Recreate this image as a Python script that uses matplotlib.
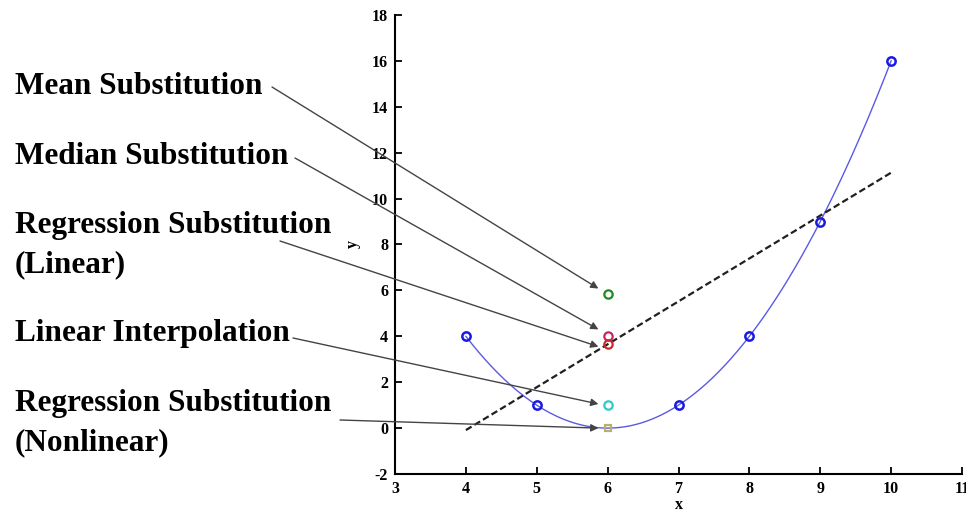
import numpy as np
import matplotlib
matplotlib.use('Agg')
import matplotlib.pyplot as plt

plt.rcParams['axes.unicode_minus'] = False

#-------------------------------------------------------------------------------
# known samples (the missing one sits at x = 6)
x_known = [4, 5, 7, 8, 9, 10]
y_known = [4, 1, 1, 4, 9, 16]
x_missing = 6

# imputed values at x = 6, one per method
methods = ['Mean Substitution', 'Median Substitution',
           'Regression Substitution\n(Linear)', 'Linear Interpolation',
           'Regression Substitution\n(Nonlinear)']
imputed = [5.83, 4.0, 3.65, 1.0, 0.0]
colors = ['#1f8a1f', '#d0206a', '#d02828', '#30c8c8', '#b8b070']
markers = ['o', 'o', 'o', 'o', 's']

# label positions in figure pixels (centre of first line) and arrow start points
label_px = [(15, 87), (15, 157), (15, 225), (15, 333), (15, 403)]
arrow_start_px = [(272, 87), (295, 158), (280, 241), (293, 338), (340, 420)]
arrow_dy = [0.25, 0.3, -0.1, 0.05, 0.0]
#-------------------------------------------------------------------------------
W, H = 966, 516
fig = plt.figure(figsize=(W / 100, H / 100), dpi=100)
ax = fig.add_axes([395 / W, 1 - 474 / H, (962 - 395) / W, (474 - 15) / H])

serif = ['Liberation Serif', 'DejaVu Serif']

# fitted curves from the known samples
xx = np.linspace(min(x_known), max(x_known), 200)
p2 = np.polyfit(x_known, y_known, 2)
p1 = np.polyfit(x_known, y_known, 1)
ax.plot(xx, np.polyval(p2, xx), color='#5a5ae6', lw=1.0)
ax.plot(xx, np.polyval(p1, xx), color='#202020', lw=1.6, ls=(0, (3, 1.5)))

ax.plot(x_known, y_known, 'o', mfc='none', mec='#1a1ae0', ms=6, mew=1.8)

for val, c, m in zip(imputed, colors, markers):
    ax.plot(x_missing, val, m, mfc='none', mec=c, ms=6 if m == 'o' else 5, mew=1.6)

# labels and arrows
for name, (px, py), (sx, sy), val, dy in zip(methods, label_px, arrow_start_px, imputed, arrow_dy):
    nlines = name.count('\n')
    # shift down so the first line's centre lands on py
    fig.text(px / W, 1 - (py + 20 * nlines) / H, name, fontsize=22.5,
             fontweight='bold', family=serif, va='center', ha='left',
             linespacing=1.45)
    ax.annotate('', xy=(x_missing - 0.13, val + dy), xycoords='data',
                xytext=(sx / W, 1 - sy / H), textcoords='figure fraction',
                arrowprops=dict(arrowstyle='-|>', color='#444444', lw=1.0,
                                mutation_scale=11, shrinkA=0, shrinkB=0))

ax.set_xlim(3, 11)
ax.set_ylim(-2, 18)
ax.set_xticks(range(3, 12))
ax.set_yticks(range(-2, 19, 2))
ax.spines['top'].set_visible(False)
ax.spines['right'].set_visible(False)
ax.spines['left'].set_linewidth(1.5)
ax.spines['bottom'].set_linewidth(1.5)
ax.tick_params(direction='in', length=5, width=1.3)
ax.tick_params(axis='x', pad=5)
ax.tick_params(axis='y', pad=5)
for lab in ax.get_xticklabels() + ax.get_yticklabels():
    lab.set_family(serif)
    lab.set_fontweight('bold')
    lab.set_fontsize(11.5)
ax.set_xlabel('x', family=serif, fontweight='bold', fontsize=11.5, labelpad=0)
ax.set_ylabel('y', family=serif, fontweight='bold', fontsize=11.5, labelpad=8)

fig.savefig('out.png', dpi=100)
